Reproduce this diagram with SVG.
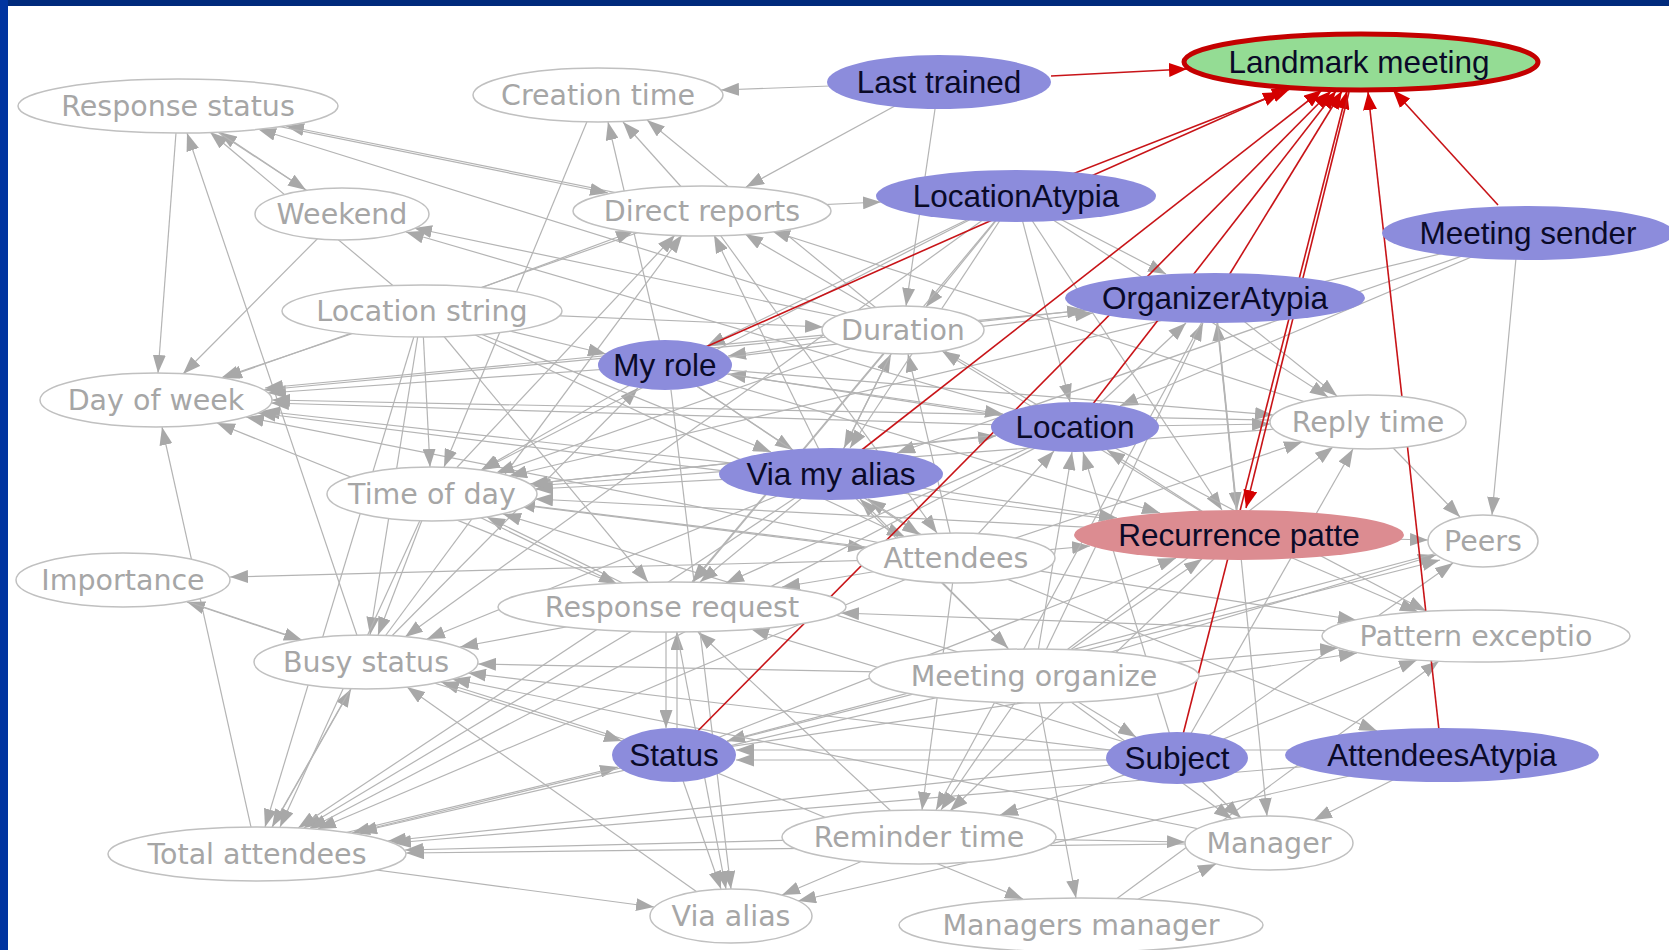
<svg xmlns="http://www.w3.org/2000/svg" width="1669" height="950" viewBox="0 0 1669 950">
<style>
.e{stroke:#b4b4b4;stroke-width:1.2;fill:none;marker-end:url(#ag)}
.r{stroke:#c81418;stroke-width:1.6;fill:none;marker-end:url(#ar)}
.w{fill:#ffffff;stroke:#c0c0c0;stroke-width:1.5}
.b{fill:#8c8cdc}
.p{fill:#dc8c91}
.g{fill:#94dc94;stroke:#c40000;stroke-width:5}
.tw{font-family:"DejaVu Sans",Verdana,sans-serif;font-size:28.5px;fill:#a6a6a6;text-anchor:middle}
.tb{font-family:"Liberation Sans",Arial,sans-serif;font-size:31.5px;fill:#0a0a28;text-anchor:middle}
</style>
<defs>
<marker id="ag" viewBox="0 0 18 13" refX="18" refY="6.5" markerWidth="18" markerHeight="13" markerUnits="userSpaceOnUse" orient="auto"><path d="M0,0 L18,6.5 L0,13 z" fill="#a8a8a8"/></marker>
<marker id="ar" viewBox="0 0 18 14" refX="18" refY="7" markerWidth="18" markerHeight="14" markerUnits="userSpaceOnUse" orient="auto"><path d="M0,0 L18,7 L0,14 z" fill="#d40000"/></marker>
</defs>
<rect x="0" y="0" width="1669" height="950" fill="#ffffff"/>
<rect x="0" y="0" width="1669" height="6" fill="#002a7c"/>
<rect x="0" y="0" width="8" height="950" fill="#0034a0"/>
<g id="connectors">
<line class="e" x1="342" y1="214" x2="219" y2="132"/>
<line class="e" x1="422" y1="310" x2="210" y2="132"/>
<line class="e" x1="366" y1="662" x2="187" y2="133"/>
<line class="e" x1="702" y1="210" x2="286" y2="126"/>
<line class="e" x1="903" y1="330" x2="258" y2="129"/>
<line class="e" x1="178" y1="106" x2="158" y2="373"/>
<line class="e" x1="342" y1="214" x2="183" y2="374"/>
<line class="e" x1="422" y1="310" x2="221" y2="378"/>
<line class="e" x1="665" y1="365" x2="268" y2="393"/>
<line class="e" x1="903" y1="330" x2="264" y2="390"/>
<line class="e" x1="1075" y1="427" x2="271" y2="403"/>
<line class="e" x1="831" y1="474" x2="262" y2="411"/>
<line class="e" x1="1215" y1="298" x2="265" y2="388"/>
<line class="e" x1="1368" y1="422" x2="272" y2="400"/>
<line class="e" x1="1239" y1="535" x2="258" y2="413"/>
<line class="e" x1="257" y1="854" x2="162" y2="427"/>
<line class="e" x1="672" y1="607" x2="217" y2="423"/>
<line class="e" x1="702" y1="210" x2="224" y2="378"/>
<line class="e" x1="956" y1="558" x2="246" y2="417"/>
<line class="e" x1="178" y1="106" x2="306" y2="190"/>
<line class="e" x1="903" y1="330" x2="414" y2="228"/>
<line class="e" x1="1075" y1="427" x2="406" y2="232"/>
<line class="e" x1="939" y1="82" x2="721" y2="90"/>
<line class="e" x1="702" y1="210" x2="623" y2="122"/>
<line class="e" x1="665" y1="365" x2="608" y2="122"/>
<line class="e" x1="903" y1="330" x2="647" y2="120"/>
<line class="e" x1="939" y1="82" x2="746" y2="187"/>
<line class="e" x1="178" y1="106" x2="608" y2="193"/>
<line class="e" x1="422" y1="310" x2="634" y2="231"/>
<line class="e" x1="432" y1="494" x2="675" y2="235"/>
<line class="e" x1="831" y1="474" x2="714" y2="235"/>
<line class="e" x1="1075" y1="427" x2="745" y2="234"/>
<line class="e" x1="1368" y1="422" x2="772" y2="231"/>
<line class="e" x1="366" y1="662" x2="682" y2="235"/>
<line class="e" x1="702" y1="210" x2="881" y2="202"/>
<line class="e" x1="939" y1="82" x2="906" y2="306"/>
<line class="e" x1="1016" y1="196" x2="926" y2="307"/>
<line class="e" x1="422" y1="310" x2="823" y2="327"/>
<line class="e" x1="831" y1="474" x2="891" y2="354"/>
<line class="e" x1="956" y1="558" x2="908" y2="354"/>
<line class="e" x1="1239" y1="535" x2="942" y2="351"/>
<line class="e" x1="422" y1="310" x2="606" y2="354"/>
<line class="e" x1="903" y1="330" x2="728" y2="356"/>
<line class="e" x1="1075" y1="427" x2="728" y2="374"/>
<line class="e" x1="366" y1="662" x2="638" y2="388"/>
<line class="e" x1="1016" y1="196" x2="707" y2="346"/>
<line class="e" x1="903" y1="330" x2="844" y2="448"/>
<line class="e" x1="1016" y1="196" x2="850" y2="448"/>
<line class="e" x1="665" y1="365" x2="793" y2="450"/>
<line class="e" x1="956" y1="558" x2="868" y2="499"/>
<line class="e" x1="1034" y1="675" x2="860" y2="499"/>
<line class="e" x1="422" y1="310" x2="771" y2="452"/>
<line class="e" x1="1016" y1="196" x2="1070" y2="402"/>
<line class="e" x1="665" y1="365" x2="1003" y2="414"/>
<line class="e" x1="432" y1="494" x2="996" y2="436"/>
<line class="e" x1="1239" y1="535" x2="1107" y2="450"/>
<line class="e" x1="1034" y1="675" x2="1072" y2="452"/>
<line class="e" x1="956" y1="558" x2="1054" y2="451"/>
<line class="e" x1="1177" y1="758" x2="1083" y2="452"/>
<line class="e" x1="1016" y1="196" x2="1166" y2="274"/>
<line class="e" x1="1075" y1="427" x2="1186" y2="323"/>
<line class="e" x1="1239" y1="535" x2="1217" y2="323"/>
<line class="e" x1="1034" y1="675" x2="1203" y2="323"/>
<line class="e" x1="665" y1="365" x2="1093" y2="313"/>
<line class="e" x1="903" y1="330" x2="1085" y2="310"/>
<line class="e" x1="1528" y1="233" x2="1120" y2="406"/>
<line class="e" x1="1528" y1="233" x2="897" y2="453"/>
<line class="e" x1="1528" y1="233" x2="509" y2="476"/>
<line class="e" x1="1215" y1="298" x2="1337" y2="396"/>
<line class="e" x1="1016" y1="196" x2="1328" y2="397"/>
<line class="e" x1="1075" y1="427" x2="1270" y2="424"/>
<line class="e" x1="956" y1="558" x2="1302" y2="442"/>
<line class="e" x1="1177" y1="758" x2="1353" y2="449"/>
<line class="e" x1="1034" y1="675" x2="1333" y2="447"/>
<line class="e" x1="665" y1="365" x2="1273" y2="415"/>
<line class="e" x1="1368" y1="422" x2="1460" y2="517"/>
<line class="e" x1="1368" y1="422" x2="533" y2="486"/>
<line class="e" x1="1516" y1="258" x2="1492" y2="515"/>
<line class="e" x1="1239" y1="535" x2="1428" y2="540"/>
<line class="e" x1="1034" y1="675" x2="1436" y2="555"/>
<line class="e" x1="674" y1="755" x2="1440" y2="560"/>
<line class="e" x1="1177" y1="758" x2="1453" y2="563"/>
<line class="e" x1="1483" y1="541" x2="727" y2="741"/>
<line class="e" x1="956" y1="558" x2="1090" y2="546"/>
<line class="e" x1="1016" y1="196" x2="1222" y2="510"/>
<line class="e" x1="1215" y1="298" x2="1237" y2="510"/>
<line class="e" x1="831" y1="474" x2="1117" y2="518"/>
<line class="e" x1="1034" y1="675" x2="1202" y2="559"/>
<line class="e" x1="674" y1="755" x2="1176" y2="558"/>
<line class="e" x1="665" y1="365" x2="1160" y2="513"/>
<line class="e" x1="665" y1="365" x2="920" y2="535"/>
<line class="e" x1="422" y1="310" x2="905" y2="537"/>
<line class="e" x1="702" y1="210" x2="937" y2="533"/>
<line class="e" x1="432" y1="494" x2="866" y2="548"/>
<line class="e" x1="956" y1="558" x2="230" y2="577"/>
<line class="e" x1="366" y1="662" x2="187" y2="602"/>
<line class="e" x1="123" y1="580" x2="302" y2="640"/>
<line class="e" x1="422" y1="310" x2="370" y2="635"/>
<line class="e" x1="432" y1="494" x2="378" y2="635"/>
<line class="e" x1="1034" y1="675" x2="478" y2="664"/>
<line class="e" x1="1177" y1="758" x2="468" y2="673"/>
<line class="e" x1="1269" y1="843" x2="452" y2="679"/>
<line class="e" x1="672" y1="607" x2="460" y2="647"/>
<line class="e" x1="674" y1="755" x2="441" y2="682"/>
<line class="e" x1="731" y1="916" x2="407" y2="687"/>
<line class="e" x1="257" y1="854" x2="351" y2="689"/>
<line class="e" x1="831" y1="474" x2="427" y2="639"/>
<line class="e" x1="598" y1="95" x2="444" y2="467"/>
<line class="e" x1="422" y1="310" x2="430" y2="467"/>
<line class="e" x1="665" y1="365" x2="481" y2="470"/>
<line class="e" x1="831" y1="474" x2="535" y2="489"/>
<line class="e" x1="903" y1="330" x2="496" y2="473"/>
<line class="e" x1="1075" y1="427" x2="530" y2="484"/>
<line class="e" x1="956" y1="558" x2="517" y2="504"/>
<line class="e" x1="1239" y1="535" x2="535" y2="499"/>
<line class="e" x1="1034" y1="675" x2="503" y2="514"/>
<line class="e" x1="672" y1="607" x2="487" y2="517"/>
<line class="e" x1="831" y1="474" x2="700" y2="582"/>
<line class="e" x1="1075" y1="427" x2="726" y2="583"/>
<line class="e" x1="903" y1="330" x2="692" y2="582"/>
<line class="e" x1="422" y1="310" x2="648" y2="582"/>
<line class="e" x1="432" y1="494" x2="617" y2="584"/>
<line class="e" x1="666" y1="632" x2="666" y2="728"/>
<line class="e" x1="677" y1="728" x2="677" y2="632"/>
<line class="e" x1="956" y1="558" x2="782" y2="587"/>
<line class="e" x1="919" y1="837" x2="698" y2="632"/>
<line class="e" x1="1177" y1="758" x2="751" y2="629"/>
<line class="e" x1="1476" y1="636" x2="841" y2="613"/>
<line class="e" x1="1239" y1="535" x2="1418" y2="612"/>
<line class="e" x1="1034" y1="675" x2="1338" y2="648"/>
<line class="e" x1="956" y1="558" x2="1356" y2="620"/>
<line class="e" x1="1075" y1="427" x2="1426" y2="611"/>
<line class="e" x1="1177" y1="758" x2="1417" y2="660"/>
<line class="e" x1="1081" y1="925" x2="1439" y2="661"/>
<line class="e" x1="674" y1="755" x2="1357" y2="653"/>
<line class="e" x1="956" y1="558" x2="1377" y2="731"/>
<line class="e" x1="257" y1="854" x2="618" y2="767"/>
<line class="e" x1="1177" y1="760" x2="736" y2="760"/>
<line class="e" x1="366" y1="662" x2="622" y2="741"/>
<line class="e" x1="366" y1="662" x2="272" y2="827"/>
<line class="e" x1="674" y1="755" x2="352" y2="833"/>
<line class="e" x1="672" y1="607" x2="304" y2="828"/>
<line class="e" x1="1034" y1="675" x2="359" y2="832"/>
<line class="e" x1="919" y1="837" x2="405" y2="850"/>
<line class="e" x1="1269" y1="843" x2="406" y2="853"/>
<line class="e" x1="956" y1="558" x2="318" y2="829"/>
<line class="e" x1="831" y1="474" x2="298" y2="828"/>
<line class="e" x1="432" y1="494" x2="280" y2="827"/>
<line class="e" x1="1177" y1="758" x2="388" y2="841"/>
<line class="e" x1="1442" y1="755" x2="393" y2="843"/>
<line class="e" x1="422" y1="310" x2="265" y2="827"/>
<line class="e" x1="1075" y1="427" x2="309" y2="829"/>
<line class="e" x1="674" y1="755" x2="721" y2="889"/>
<line class="e" x1="672" y1="607" x2="726" y2="889"/>
<line class="e" x1="671" y1="390" x2="731" y2="889"/>
<line class="e" x1="919" y1="837" x2="782" y2="895"/>
<line class="e" x1="1442" y1="755" x2="798" y2="901"/>
<line class="e" x1="257" y1="854" x2="654" y2="907"/>
<line class="e" x1="1034" y1="675" x2="941" y2="810"/>
<line class="e" x1="956" y1="558" x2="922" y2="810"/>
<line class="e" x1="1177" y1="758" x2="1000" y2="815"/>
<line class="e" x1="1215" y1="298" x2="936" y2="810"/>
<line class="e" x1="1239" y1="535" x2="950" y2="811"/>
<line class="e" x1="1177" y1="758" x2="1241" y2="818"/>
<line class="e" x1="1034" y1="675" x2="1232" y2="819"/>
<line class="e" x1="1081" y1="925" x2="1216" y2="864"/>
<line class="e" x1="1215" y1="298" x2="1267" y2="816"/>
<line class="e" x1="919" y1="837" x2="1185" y2="842"/>
<line class="e" x1="1442" y1="755" x2="1314" y2="820"/>
<line class="e" x1="1034" y1="675" x2="1076" y2="898"/>
<line class="e" x1="674" y1="755" x2="1023" y2="899"/>
<line class="e" x1="1034" y1="675" x2="1136" y2="737"/>
<line class="e" x1="831" y1="474" x2="1008" y2="648"/>
<line class="e" x1="1442" y1="750" x2="736" y2="750"/>
<line class="e" x1="1016" y1="196" x2="482" y2="470"/>
<line class="e" x1="1016" y1="196" x2="693" y2="582"/>
<line class="e" x1="1016" y1="196" x2="405" y2="637"/>
<line class="r" x1="1051" y1="76" x2="1187" y2="69"/>
<line class="r" x1="1016" y1="196" x2="1290" y2="89"/>
<line class="r" x1="665" y1="365" x2="1281" y2="92"/>
<line class="r" x1="831" y1="474" x2="1322" y2="90"/>
<line class="r" x1="674" y1="755" x2="1331" y2="91"/>
<line class="r" x1="1075" y1="427" x2="1336" y2="91"/>
<line class="r" x1="1215" y1="298" x2="1342" y2="91"/>
<line class="r" x1="1177" y1="758" x2="1347" y2="91"/>
<line class="r" x1="1349" y1="92" x2="1246" y2="508"/>
<line class="r" x1="1439" y1="730" x2="1368" y2="92"/>
<line class="r" x1="1498" y1="205" x2="1393" y2="90"/>
</g>
<g id="n-response-status"><ellipse class="w" cx="178" cy="106" rx="160" ry="27"/><text class="tw" x="178" y="116">Response status</text></g>
<g id="n-creation-time"><ellipse class="w" cx="598" cy="95" rx="125" ry="27"/><text class="tw" x="598" y="105">Creation time</text></g>
<g id="n-last-trained"><ellipse class="b" cx="939" cy="82" rx="112" ry="27"/><text class="tb" x="939" y="93">Last trained</text></g>
<g id="n-landmark-meeting"><ellipse class="g" cx="1361" cy="62" rx="177" ry="28"/><text class="tb" x="1359" y="73">Landmark meeting</text></g>
<g id="n-weekend"><ellipse class="w" cx="342" cy="214" rx="87" ry="26"/><text class="tw" x="342" y="224">Weekend</text></g>
<g id="n-direct-reports"><ellipse class="w" cx="702" cy="211" rx="129" ry="25"/><text class="tw" x="702" y="221">Direct reports</text></g>
<g id="n-location-atypia"><ellipse class="b" cx="1016" cy="196" rx="140" ry="26"/><text class="tb" x="1016" y="207">LocationAtypia</text></g>
<g id="n-meeting-sender"><ellipse class="b" cx="1528" cy="233" rx="146" ry="27"/><text class="tb" x="1528" y="244">Meeting sender</text></g>
<g id="n-organizer-atypia"><ellipse class="b" cx="1215" cy="298" rx="150" ry="25"/><text class="tb" x="1215" y="309">OrganizerAtypia</text></g>
<g id="n-location-string"><ellipse class="w" cx="422" cy="311" rx="140" ry="26"/><text class="tw" x="422" y="321">Location string</text></g>
<g id="n-duration"><ellipse class="w" cx="903" cy="330" rx="81" ry="24"/><text class="tw" x="903" y="340">Duration</text></g>
<g id="n-my-role"><ellipse class="b" cx="665" cy="365" rx="67" ry="25"/><text class="tb" x="665" y="376">My role</text></g>
<g id="n-day-of-week"><ellipse class="w" cx="156" cy="400" rx="116" ry="27"/><text class="tw" x="156" y="410">Day of week</text></g>
<g id="n-reply-time"><ellipse class="w" cx="1368" cy="422" rx="98" ry="27"/><text class="tw" x="1368" y="432">Reply time</text></g>
<g id="n-location"><ellipse class="b" cx="1075" cy="427" rx="84" ry="25"/><text class="tb" x="1075" y="438">Location</text></g>
<g id="n-via-my-alias"><ellipse class="b" cx="831" cy="474" rx="112" ry="26"/><text class="tb" x="831" y="485">Via my alias</text></g>
<g id="n-time-of-day"><ellipse class="w" cx="432" cy="494" rx="105" ry="27"/><text class="tw" x="432" y="504">Time of day</text></g>
<g id="n-recurrence-patte"><ellipse class="p" cx="1239" cy="535" rx="165" ry="25"/><text class="tb" x="1239" y="546">Recurrence patte</text></g>
<g id="n-peers"><ellipse class="w" cx="1483" cy="541" rx="55" ry="26"/><text class="tw" x="1483" y="551">Peers</text></g>
<g id="n-attendees"><ellipse class="w" cx="956" cy="558" rx="99" ry="25"/><text class="tw" x="956" y="568">Attendees</text></g>
<g id="n-importance"><ellipse class="w" cx="123" cy="580" rx="107" ry="27"/><text class="tw" x="123" y="590">Importance</text></g>
<g id="n-response-request"><ellipse class="w" cx="672" cy="607" rx="174" ry="25"/><text class="tw" x="672" y="617">Response request</text></g>
<g id="n-pattern-exceptio"><ellipse class="w" cx="1476" cy="636" rx="154" ry="26"/><text class="tw" x="1476" y="646">Pattern exceptio</text></g>
<g id="n-busy-status"><ellipse class="w" cx="366" cy="662" rx="112" ry="27"/><text class="tw" x="366" y="672">Busy status</text></g>
<g id="n-meeting-organize"><ellipse class="w" cx="1034" cy="676" rx="165" ry="27"/><text class="tw" x="1034" y="686">Meeting organize</text></g>
<g id="n-status"><ellipse class="b" cx="674" cy="755" rx="62" ry="27"/><text class="tb" x="674" y="766">Status</text></g>
<g id="n-subject"><ellipse class="b" cx="1177" cy="758" rx="71" ry="26"/><text class="tb" x="1177" y="769">Subject</text></g>
<g id="n-attendees-atypia"><ellipse class="b" cx="1442" cy="755" rx="157" ry="27"/><text class="tb" x="1442" y="766">AttendeesAtypia</text></g>
<g id="n-total-attendees"><ellipse class="w" cx="257" cy="854" rx="149" ry="27"/><text class="tw" x="257" y="864">Total attendees</text></g>
<g id="n-reminder-time"><ellipse class="w" cx="919" cy="837" rx="137" ry="27"/><text class="tw" x="919" y="847">Reminder time</text></g>
<g id="n-manager"><ellipse class="w" cx="1269" cy="843" rx="84" ry="27"/><text class="tw" x="1269" y="853">Manager</text></g>
<g id="n-via-alias"><ellipse class="w" cx="731" cy="916" rx="81" ry="27"/><text class="tw" x="731" y="926">Via alias</text></g>
<g id="n-managers-manager"><ellipse class="w" cx="1081" cy="925" rx="182" ry="27"/><text class="tw" x="1081" y="935">Managers manager</text></g>
</svg>
